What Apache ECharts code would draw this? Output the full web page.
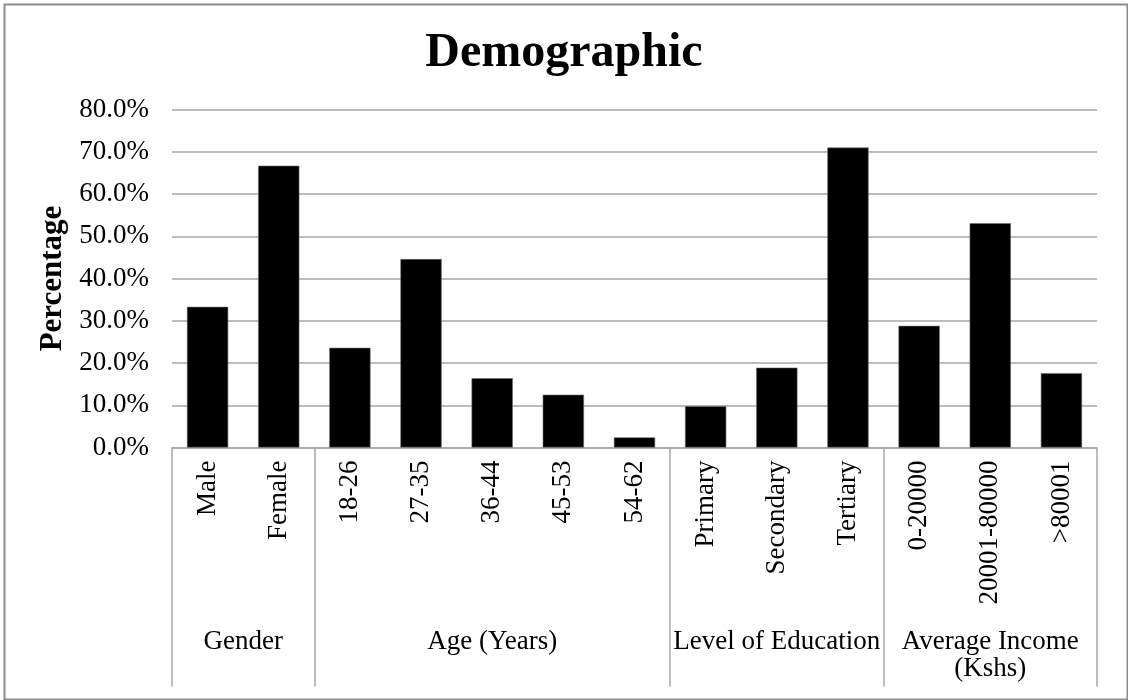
<!DOCTYPE html>
<html>
<head>
<meta charset="utf-8">
<script src="https://cdn.jsdelivr.net/npm/echarts@6/dist/echarts.min.js"></script>
<style>
  html, body { margin: 0; padding: 0; background: #fff; }
  #chart { width: 1128px; height: 700px; }
</style>
</head>
<body>
<div id="chart"></div>
<script>
// Survey categories, shown under each bar
const categories = ['Male', 'Female', '18-26', '27-35', '36-44', '45-53', '54-62',
  'Primary', 'Secondary', 'Tertiary', '0-20000', '20001-80000', '>80001'];
// Share of respondents in each category (%)
const percentages = [33.3, 66.7, 23.6, 44.6, 16.4, 12.5, 2.4, 9.8, 18.9, 71.0, 28.8, 53.1, 17.6];
// Outer grouping of the categories
const groupNames = ['Gender', 'Age (Years)', 'Level of Education', 'Average Income\n(Kshs)'];
const groupSizes = [2, 5, 3, 3];
// Value axis ticks
const yTicks = [0, 10, 20, 30, 40, 50, 60, 70, 80];

// group boundaries and centres in category units (0 .. categories.length)
const groupEdges = [0];
groupSizes.forEach(s => groupEdges.push(groupEdges[groupEdges.length - 1] + s));
const groupCenters = groupSizes.map((s, i) => groupEdges[i] + s / 2);

const FONT = '"Liberation Serif", "Times New Roman", serif';
const LINE = '#a6a6a6';

const chart = echarts.init(document.getElementById('chart'), null, { renderer: 'canvas' });
chart.setOption({
  backgroundColor: '#fff',
  animation: false,
  title: {
    text: 'Demographic',
    left: 'center',
    top: 25,
    textStyle: { fontFamily: FONT, fontSize: 48, fontWeight: 'bold', color: '#000' }
  },
  grid: { left: 172, right: 31, top: 109.5, bottom: 252.5, containLabel: false },
  xAxis: [
    {
      type: 'category',
      data: categories,
      position: 'bottom',
      axisLine: { show: true, lineStyle: { color: LINE, width: 1.5 } },
      axisTick: { show: false },
      axisLabel: {
        interval: 0,
        rotate: 90,
        margin: 13,
        fontFamily: FONT,
        fontSize: 27,
        color: '#000'
      }
    },
    {
      type: 'value',
      min: 0,
      max: categories.length,
      position: 'bottom',
      axisLine: { show: false },
      splitLine: { show: false },
      axisTick: {
        show: true,
        customValues: groupEdges,
        length: 239,
        lineStyle: { color: LINE, width: 1.5 }
      },
      axisLabel: {
        customValues: groupCenters,
        margin: 181,
        fontFamily: FONT,
        fontSize: 27,
        lineHeight: 27,
        color: '#000',
        align: 'center',
        formatter: v => {
          const i = groupCenters.findIndex(c => Math.abs(c - v) < 1e-6);
          return i >= 0 ? groupNames[i] : '';
        }
      }
    }
  ],
  yAxis: {
    type: 'value',
    min: yTicks[0],
    max: yTicks[yTicks.length - 1],
    interval: yTicks[1] - yTicks[0],
    name: 'Percentage',
    nameLocation: 'middle',
    nameRotate: 90,
    nameGap: 102,
    nameTextStyle: { fontFamily: FONT, fontSize: 31, fontWeight: 'bold', color: '#000' },
    axisLine: { show: false },
    axisTick: { show: false },
    splitLine: { show: true, lineStyle: { color: LINE, width: 1.5 } },
    axisLabel: {
      margin: 23,
      fontFamily: FONT,
      fontSize: 27,
      color: '#000',
      formatter: v => v.toFixed(1) + '%'
    }
  },
  series: [{
    type: 'bar',
    xAxisIndex: 0,
    data: percentages,
    barCategoryGap: '42%',
    itemStyle: { color: '#000', borderColor: '#6e6e6e', borderWidth: 0.6 }
  }],
  graphic: [{
    type: 'rect',
    left: 2, top: 2,
    shape: { width: 1123, height: 695 },
    style: { fill: null, stroke: '#8c8c8c', lineWidth: 2 },
    silent: true
  }]
});
</script>
</body>
</html>
